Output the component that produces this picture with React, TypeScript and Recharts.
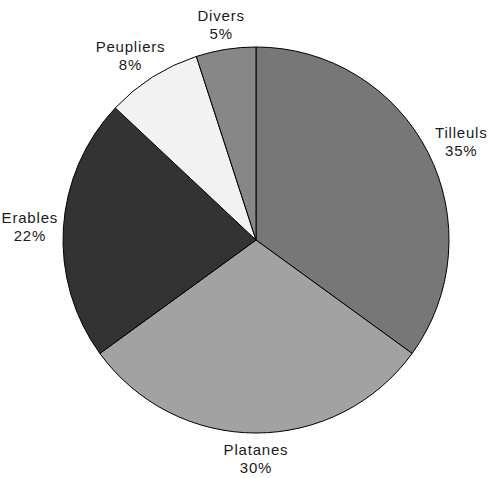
import React from "react";
import { PieChart, Pie, Cell } from "recharts";

const names = ["Tilleuls", "Platanes", "Erables", "Peupliers", "Divers"];
const values = [35, 30, 22, 8, 5];
const colors = ["#777777", "#a2a2a2", "#333333", "#f2f2f2", "#878787"];

const data = names.map((name, i) => ({ name, value: values[i] }));

const RAD = Math.PI / 180;

const renderLabel = (props: any) => {
  const { cx, cy, midAngle, outerRadius, name, value } = props;
  const cos = Math.cos(-midAngle * RAD);
  const sin = Math.sin(-midAngle * RAD);
  const hw = name.length * 3.8;
  const hh = 18;
  const r = outerRadius + 7;
  const x = cx + r * cos + hw * cos;
  const y = cy + r * sin + hh * sin;
  return (
    <text
      x={x}
      y={y}
      textAnchor="middle"
      fill="#1a1a1a"
      style={{ fontFamily: "'Liberation Sans', Arial, sans-serif", fontSize: 15, letterSpacing: 0.8 }}
    >
      <tspan x={x} dy={-3.5}>{name}</tspan>
      <tspan x={x} dy={18}>{`${value}%`}</tspan>
    </text>
  );
};

export default function App() {
  return (
    <div style={{ position: "absolute", left: 0, top: 0, background: "#fff" }}>
      <PieChart width={493} height={478} margin={{ top: 0, right: 0, bottom: 0, left: 0 }}>
        <Pie
          data={data}
          dataKey="value"
          nameKey="name"
          cx={256}
          cy={240}
          outerRadius={193}
          startAngle={90}
          endAngle={-270}
          stroke="#000"
          strokeWidth={1}
          label={renderLabel}
          labelLine={false}
          isAnimationActive={false}
        >
          {data.map((d, i) => (
            <Cell key={d.name} fill={colors[i]} />
          ))}
        </Pie>
      </PieChart>
    </div>
  );
}
